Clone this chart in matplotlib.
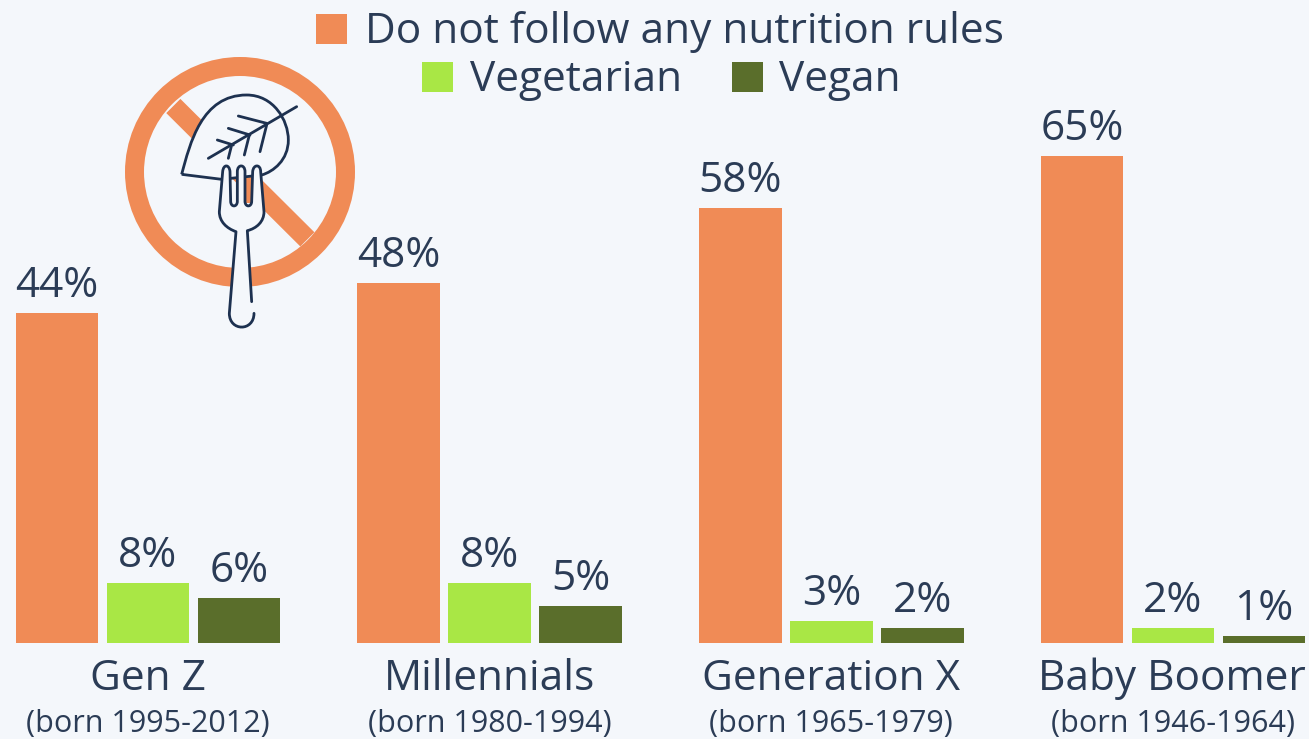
import matplotlib
matplotlib.use("Agg")
import matplotlib.pyplot as plt
import numpy as np
from matplotlib.patches import Circle, Rectangle, PathPatch
from matplotlib.path import Path

plt.rcParams['font.family'] = ['Open Sans', 'DejaVu Sans']

generations = ["Gen Z", "Millennials", "Generation X", "Baby Boomer"]
born = ["(born 1995-2012)", "(born 1980-1994)", "(born 1965-1979)", "(born 1946-1964)"]
no_rules = [44, 48, 58, 65]
vegetarian = [8, 8, 3, 2]
vegan = [6, 5, 2, 1]

ORANGE = "#f08b56"
GREEN = "#a9e745"
DARK = "#5a6e2b"
INK = "#2b3c56"
ICON = "#1d3150"
BG = "#f4f7fb"

W, H = 1309, 739
fig = plt.figure(figsize=(W / 100, H / 100), dpi=100, facecolor=BG)

# chart axes: baseline at y=643 px, 7.5 px per percent, 341.67 px per group
base_px, px_per_pct, group_px, first_px = 643, 7.5, 341.67, 148
ax = fig.add_axes([0, (H - base_px) / H, 1, base_px / H])
ax.set_xlim(-first_px / group_px, (W - first_px) / group_px)
ax.set_ylim(0, base_px / px_per_pct)
ax.axis("off")

x = np.arange(len(generations))
step = 91 / group_px
width = 82.5 / group_px
for off, vals, col in [(-step, no_rules, ORANGE), (0, vegetarian, GREEN), (step, vegan, DARK)]:
    bars = ax.bar(x + off, vals, width=width, color=col, linewidth=0)
    for b, v in zip(bars, vals):
        ax.annotate(f"{v}%", (b.get_x() + b.get_width() / 2, v), xytext=(0, 11.5),
                    textcoords="offset points", ha="center", va="baseline",
                    fontsize=30.5, color=INK)

label_shift = [0, 0, 0, -1]
for i, (g, s) in enumerate(zip(generations, born)):
    ax.annotate(g, (i, 0), xytext=(label_shift[i], -34), textcoords="offset points", ha="center",
                va="baseline", fontsize=30.5, color=INK, annotation_clip=False)
    ax.annotate(s, (i, 0), xytext=(0, -58.5), textcoords="offset points", ha="center",
                va="center", fontsize=22, color=INK, annotation_clip=False)

# overlay in pixel coordinates for legend and icon
ov = fig.add_axes([0, 0, 1, 1], facecolor="none")
ov.set_xlim(0, W)
ov.set_ylim(H, 0)
ov.axis("off")

legend_items = [
    ("Do not follow any nutrition rules", ORANGE, 316, 14, 365, 43),
    ("Vegetarian", GREEN, 422, 62, 470, 91),
    ("Vegan", DARK, 732, 62, 779, 91),
]
for label, col, sx, sy, tx, ty in legend_items:
    ov.add_patch(Rectangle((sx, sy), 31, 30, color=col, linewidth=0))
    ov.text(tx, ty, label, ha="left", va="baseline", fontsize=30.5, color=INK)

# icon, coordinates from a 3x crop with origin (110, 40)
def Z(pts):
    return [(p[0] / 3 + 110, p[1] / 3 + 40) for p in pts]

M, L, C = Path.MOVETO, Path.LINETO, Path.CURVE4

ov.add_patch(Circle((240, 172), 105.5, fill=False, ec=ORANGE, lw=19 * 0.72, zorder=1))
ov.plot(*zip(*Z([(190, 198), (592, 598)])), color=ORANGE, lw=20 * 0.72,
        solid_capstyle="butt", zorder=1.1)

leaf_v = Z([(215, 403), (240, 310), (275, 165), (410, 165), (490, 165), (535, 240),
            (535, 300), (535, 360), (490, 395), (455, 405), (335, 418), (215, 403)])
leaf_c = [M, C, C, C, C, C, C, C, C, C, L, L]
ov.add_patch(PathPatch(Path(leaf_v, leaf_c), fc=BG, ec=ICON, lw=2.0, zorder=2))

veins = [[(295, 355), (560, 200)],
         [(385, 228), (470, 250)], [(355, 265), (420, 285)], [(322, 300), (370, 315)],
         [(470, 255), (450, 335)], [(418, 285), (403, 345)], [(365, 315), (355, 355)]]
for v in veins:
    ov.plot(*zip(*Z(v)), color=ICON, lw=2.0, solid_capstyle="round", zorder=2.1)

fork_segments = [
    (M, [(425, 785)]), (L, [(412, 572)]),
    (C, [(440, 565), (462, 545), (462, 515)]), (L, [(452, 395)]),
    (C, [(452, 372), (430, 372), (428, 395)]), (L, [(425, 485)]),
    (C, [(424, 502), (406, 502), (405, 485)]), (L, [(405, 395)]),
    (C, [(405, 372), (382, 372), (382, 395)]), (L, [(382, 485)]),
    (C, [(381, 502), (363, 502), (362, 485)]), (L, [(360, 395)]),
    (C, [(358, 372), (340, 372), (338, 395)]), (L, [(328, 515)]),
    (C, [(328, 545), (350, 565), (378, 575)]), (L, [(358, 820)]),
    (C, [(358, 875), (432, 875), (432, 820)]),
]
fork_v, fork_c = [], []
for code, pts in fork_segments:
    fork_v += Z(pts)
    fork_c += [code] * len(pts)
fork_path = Path(fork_v, fork_c)
ov.add_patch(PathPatch(fork_path, fc=BG, ec="none", zorder=3))
# the slash stays visible through the slot between the middle and right tines
ov.plot(*zip(*Z([(416, 425), (416, 490)])), color=ORANGE, lw=4.5,
        solid_capstyle="butt", zorder=3.1)
ov.add_patch(PathPatch(fork_path, fc="none", ec=ICON, lw=2.0, joinstyle="round",
                       capstyle="round", zorder=3.2))

fig.savefig("out.png", dpi=100, facecolor=BG)
